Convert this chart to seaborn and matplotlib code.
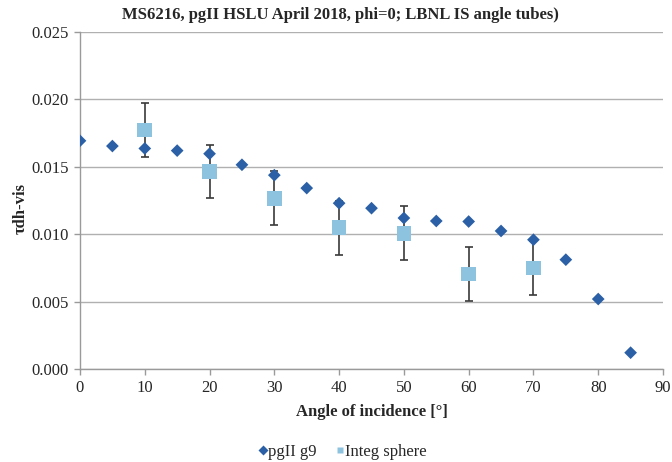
import matplotlib
matplotlib.use("Agg")
import matplotlib.pyplot as plt
from matplotlib.lines import Line2D
import seaborn as sns
import pandas as pd

# pgII g9 goniophotometer measurements
angles_g9 = [0, 5, 10, 15, 20, 25, 30, 35, 40, 45, 50, 55, 60, 65, 70, 75, 80, 85]
tau_g9 = [0.01693, 0.01654, 0.01636, 0.01620, 0.01597, 0.01515, 0.01438, 0.01342,
          0.01230, 0.01193, 0.01120, 0.01098, 0.01094, 0.01024, 0.00959, 0.00811,
          0.00519, 0.00121]

# Integrating sphere measurements with uncertainty
angles_is = [10, 20, 30, 40, 50, 60, 70]
tau_is = [0.01774, 0.01465, 0.01266, 0.01048, 0.01007, 0.00706, 0.00748]
err_is = [0.0020, 0.0020, 0.0020, 0.0020, 0.0020, 0.0020, 0.0020]
xerr_is = [0.6] * 7

x_ticks = [0, 10, 20, 30, 40, 50, 60, 70, 80, 90]
y_ticks = [0.000, 0.005, 0.010, 0.015, 0.020, 0.025]

df_g9 = pd.DataFrame({"angle": angles_g9, "tau": tau_g9})
df_is = pd.DataFrame({"angle": angles_is, "tau": tau_is})

sns.set_theme(style="white")
plt.rcParams["font.family"] = ["Liberation Serif", "DejaVu Serif"]

fig = plt.figure(figsize=(6.72, 4.62), dpi=100)
ax = fig.add_axes([80 / 672, 1 - 369 / 462, 583 / 672, 337 / 462])

dark_blue = "#2b60a6"
light_blue = "#8ec3df"

ax.errorbar(angles_is, tau_is, yerr=err_is, xerr=xerr_is, fmt="none",
            ecolor="#3a3a3a", elinewidth=1.2, capsize=3, capthick=1.2, zorder=3)
sns.scatterplot(data=df_is, x="angle", y="tau", marker="s", s=110,
                color=light_blue, edgecolor="none", ax=ax, zorder=4,
                legend=False)
sns.scatterplot(data=df_g9, x="angle", y="tau", marker="D", s=42,
                color=dark_blue, edgecolor="none", ax=ax, zorder=5,
                legend=False)

ax.set_xlim(0, 90)
ax.set_ylim(0, 0.025)
ax.set_xticks(x_ticks)
ax.set_yticks(y_ticks)
ax.set_xticklabels([str(t) for t in x_ticks], fontsize=12)
ax.set_yticklabels([f"{t:.3f}" for t in y_ticks], fontsize=12)

ax.yaxis.grid(True, color="#b0b0b0", linewidth=1.0)
ax.xaxis.grid(False)
ax.set_axisbelow(True)

for side in ["top", "right"]:
    ax.spines[side].set_visible(False)
for side in ["left", "bottom"]:
    ax.spines[side].set_color("#9a9a9a")
    ax.spines[side].set_linewidth(1.0)

ax.tick_params(axis="both", which="major", direction="out", length=4,
               width=1.0, color="#9a9a9a", bottom=True, left=True, pad=4)

ax.set_xlabel("Angle of incidence [°]", fontsize=12, fontweight="bold", labelpad=6)
ax.set_ylabel("τdh-vis", fontsize=12, fontweight="bold")
ax.yaxis.set_label_coords(-51 / 583, 0.476)
fig.text(340 / 672, 1 - 15 / 462,
         "MS6216, pgII HSLU April 2018, phi=0; LBNL IS angle tubes)",
         fontsize=12, fontweight="bold", ha="center", va="center")

legend_handles = [
    Line2D([], [], linestyle="none", marker="D", markersize=5,
           markerfacecolor=dark_blue, markeredgecolor="none"),
    Line2D([], [], linestyle="none", marker="s", markersize=5,
           markerfacecolor=light_blue, markeredgecolor="none"),
]
ax.legend(legend_handles, ["pgII g9", "Integ sphere"],
          loc="center", bbox_to_anchor=(0.446, -0.247), ncol=2, frameon=False,
          fontsize=12, handletextpad=-0.3, handlelength=1.2,
          columnspacing=0.8)

fig.savefig("out.png", dpi=100)
